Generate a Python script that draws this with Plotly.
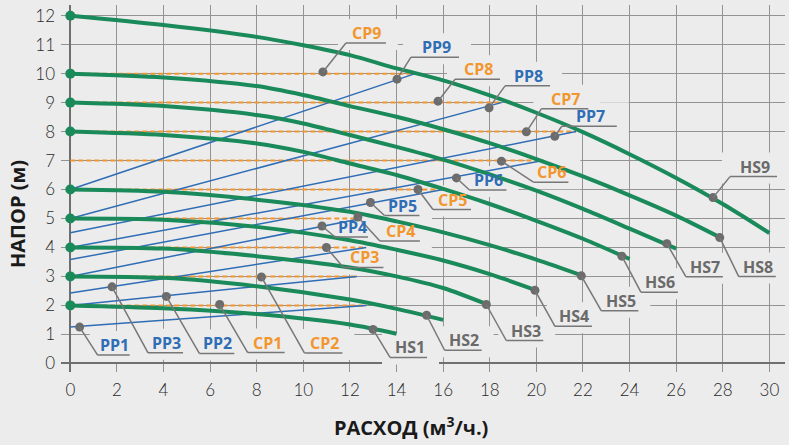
import plotly.graph_objects as go

# ---------------- data ----------------
hs_names = ["HS1", "HS2", "HS3", "HS4", "HS5", "HS6", "HS7", "HS8", "HS9"]
hs_x = [
    [0, 4, 8, 12, 14],
    [0, 4, 8, 12, 14, 16],
    [0, 4, 8, 12, 14, 16, 17.9],
    [0, 4, 8, 12, 14, 16, 18, 20],
    [0, 4, 8, 12, 14, 16, 18, 20, 22],
    [0, 4, 8, 10, 12, 14, 16, 18, 20, 22, 24],
    [0, 4, 8, 10, 12, 14, 16, 18, 20, 22, 24, 26],
    [0, 4, 8, 10, 12, 14, 16, 18, 20, 22, 24, 26, 28],
    [0, 4, 8, 10, 12, 14, 16, 18, 20, 22, 24, 26, 28, 30],
]
hs_y = [
    [2.0, 1.9, 1.7, 1.34, 1.02],
    [3.0, 2.95, 2.66, 2.2, 1.88, 1.5],
    [4.0, 3.96, 3.7, 3.31, 3.0, 2.6, 2.03],
    [5.0, 4.96, 4.71, 4.25, 3.92, 3.55, 3.08, 2.52],
    [6.0, 5.92, 5.65, 5.23, 4.9, 4.52, 4.08, 3.58, 3.02],
    [8.0, 7.88, 7.59, 7.3, 6.9, 6.5, 6.02, 5.5, 4.92, 4.3, 3.6],
    [9.0, 8.88, 8.57, 8.28, 7.88, 7.47, 7.03, 6.52, 5.96, 5.33, 4.65, 3.96],
    [10.0, 9.87, 9.57, 9.26, 8.88, 8.51, 8.08, 7.6, 7.05, 6.45, 5.8, 5.1, 4.3],
    [12.0, 11.68, 11.27, 10.98, 10.64, 10.18, 9.77, 9.25, 8.65, 7.98, 7.22, 6.4, 5.5, 4.5],
]

cp_names = ["CP1", "CP2", "CP3", "CP4", "CP5", "CP6", "CP7", "CP8", "CP9"]
cp_levels = [2, 3, 4, 5, 6, 7, 8, 9, 10]
cp_end_x = [12.7, 12.3, 12.7, 12.5, 16.0, 20.3, 21.7, 18.5, 14.8]

pp_names = ["PP1", "PP2", "PP3", "PP4", "PP5", "PP6", "PP7", "PP8", "PP9"]
pp_start = [1.25, 2.0, 2.43, 3.0, 3.58, 4.0, 4.51, 5.0, 6.0]

# callout points (where each label's leader line touches its curve)
label_names = ["CP9", "PP9", "CP8", "PP8", "CP7", "PP7", "HS9",
               "CP6", "PP6", "CP5", "PP5", "CP4", "PP4", "CP3",
               "CP2", "CP1", "PP2", "PP3", "PP1",
               "HS1", "HS2", "HS3", "HS4", "HS5", "HS6", "HS7", "HS8"]
label_x = [10.84, 14.02, 15.78, 17.97, 19.57, 20.79, 27.58,
           18.5, 16.57, 14.92, 12.88, 12.34, 10.8, 10.99,
           8.2, 6.41, 4.12, 1.79, 0.4,
           12.99, 15.29, 17.85, 19.94, 21.93, 23.67, 25.6, 27.87]
label_y = [10.06, 9.81, 9.05, 8.82, 7.99, 7.84, 5.72,
           6.98, 6.4, 6.0, 5.55, 5.05, 4.74, 4.0,
           2.98, 2.03, 2.31, 2.64, 1.25,
           1.17, 1.66, 2.03, 2.52, 3.02, 3.7, 4.13, 4.34]

x_ticks = list(range(0, 31, 2))
y_ticks = list(range(0, 13))

# ---------------- styles ----------------
BG = "#ececec"
GREEN = "#1a8a5b"
BLUE = "#2f6db5"
ORANGE = "#f2962d"
DOT = "#6c6c6c"
LEADER = "#777777"
TXT = {"CP": ORANGE, "PP": BLUE, "HS": "#6a6a6a"}

# leader geometry in pixels relative to the callout point: (corner dx, corner dy(up), underline length)
leader = {
    "CP9": (23, 29, 40), "PP9": (14, 22, 48), "CP8": (17, 22, 45), "PP8": (16, 22, 45),
    "CP7": (15, 23, 47), "PP7": (7, 10, 55), "HS9": (17, 21, 47),
    "CP6": (32, -21, 35), "PP6": (13, -12, 37), "CP5": (15, -20, 38), "PP5": (14, -13, 35),
    "CP4": (22, -24, 40), "PP4": (13, -11, 33), "CP3": (17, -20, 40),
    "CP2": (43, -76, 38), "CP1": (28, -48, 37), "PP2": (33, -57, 35), "PP3": (36, -66, 35),
    "PP1": (18, -28, 32),
    "HS1": (17, -28, 37), "HS2": (18, -35, 37), "HS3": (20, -36, 37), "HS4": (20, -36, 37),
    "HS5": (20, -35, 37), "HS6": (19, -36, 37), "HS7": (19, -33, 37), "HS8": (19, -39, 37),
}

fig = go.Figure()

# constant pressure (dashed orange)
for name, lvl, xe in zip(cp_names, cp_levels, cp_end_x):
    fig.add_trace(go.Scatter(x=[0, xe], y=[lvl, lvl], mode="lines", name=name,
                             line=dict(color=ORANGE, width=2, dash="5px,3px"),
                             hoverinfo="skip"))
# proportional pressure (blue)
for name, y0, lvl, xe in zip(pp_names, pp_start, cp_levels, cp_end_x):
    fig.add_trace(go.Scatter(x=[0, xe], y=[y0, lvl], mode="lines", name=name,
                             line=dict(color=BLUE, width=1.5), hoverinfo="skip"))
# pump curves (green)
for name, xs, ys in zip(hs_names, hs_x, hs_y):
    fig.add_trace(go.Scatter(x=xs, y=ys, mode="lines", name=name,
                             line=dict(color=GREEN, width=4, shape="spline", smoothing=0.8),
                             hoverinfo="skip"))
fig.add_trace(go.Scatter(x=[xs[0] for xs in hs_x], y=[ys[0] for ys in hs_y], mode="markers",
                         marker=dict(color=GREEN, size=10), hoverinfo="skip"))

# callouts
shapes = []
annotations = []
for name, lx, ly in zip(label_names, label_x, label_y):
    cx, cy, ln = leader[name]
    common = dict(xref="x", yref="y", xsizemode="pixel", ysizemode="pixel", xanchor=lx, yanchor=ly)
    # mask behind label (hides the grid)
    shapes.append(dict(type="rect", x0=cx - 8, x1=cx + ln + 12, y0=cy - 7, y1=cy + 24,
                       fillcolor=BG, line=dict(width=0), layer="between", **common))
    shapes.append(dict(type="line", x0=0, y0=0, x1=cx, y1=cy,
                       line=dict(color=LEADER, width=1.5), layer="above", **common))
    shapes.append(dict(type="line", x0=cx, y0=cy, x1=cx + ln, y1=cy,
                       line=dict(color=LEADER, width=1.5), layer="above", **common))
    annotations.append(dict(x=lx, y=ly, xref="x", yref="y", text=name, showarrow=False,
                            xshift=cx + ln / 2 + 1, yshift=cy + 10,
                            xanchor="center", yanchor="middle",
                            font=dict(family="Open Sans", size=16, weight=700, color=TXT[name[:2]])))

fig.add_trace(go.Scatter(x=label_x, y=label_y, mode="markers",
                         marker=dict(color=DOT, size=9), hoverinfo="skip"))

# axis titles
annotations.append(dict(text="НАПОР (м)", xref="paper", yref="paper", x=-0.061, y=0.43,
                        textangle=-90, showarrow=False, xanchor="center", yanchor="middle",
                        font=dict(family="Open Sans", size=20, weight=700, color="#1a1a1a")))
annotations.append(dict(text="РАСХОД (м<sup>3</sup>/ч.)", xref="paper", yref="paper", x=0.483, y=-0.148,
                        showarrow=False, xanchor="center", yanchor="middle",
                        font=dict(family="Open Sans", size=20, weight=700, color="#1a1a1a")))

fig.update_layout(
    width=789, height=445,
    margin=dict(l=61, r=4, t=5, b=73, autoexpand=False),
    paper_bgcolor=BG, plot_bgcolor=BG,
    showlegend=False,
    shapes=shapes, annotations=annotations,
    font=dict(family="Open Sans", color="#2a2a2a"),
)
tickfont = dict(family="Lato", size=17, weight=300, color="#2a2a2a")
fig.update_xaxes(range=[-0.4, 30.67], tickvals=x_ticks, ticktext=[str(v) for v in x_ticks],
                 automargin=False,
                 showgrid=True, gridcolor="#939393", gridwidth=1,
                 zeroline=True, zerolinecolor="#6f6f6f", zerolinewidth=2,
                 showline=False, ticks="", ticklabelstandoff=6, tickfont=tickfont)
fig.update_yaxes(range=[-0.3, 12.37], tickvals=y_ticks, ticktext=[str(v) for v in y_ticks],
                 automargin=False,
                 showgrid=True, gridcolor="#939393", gridwidth=1,
                 zeroline=True, zerolinecolor="#6f6f6f", zerolinewidth=2,
                 showline=False, ticks="", ticklabelstandoff=5, tickfont=tickfont)

fig.write_html("out.html", config={"displayModeBar": False},
               post_script="document.body.style.margin='0';document.body.style.background='#ececec';")
